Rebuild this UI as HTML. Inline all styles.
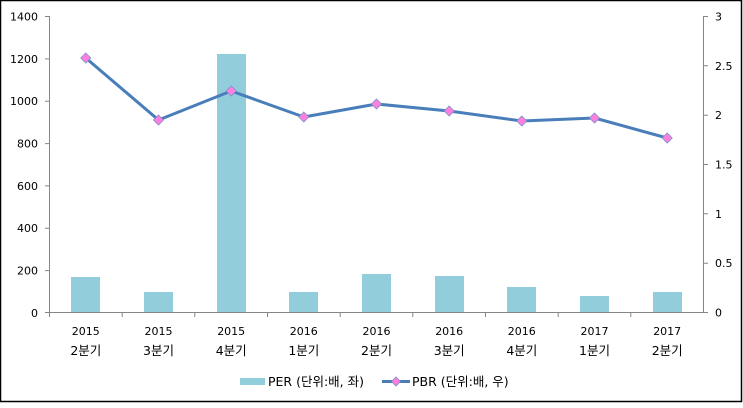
<!DOCTYPE html>
<html><head><meta charset="utf-8"><style>
html,body{margin:0;padding:0;background:#fff;}
svg text{font-family:"DejaVu Sans","Noto Sans CJK KR",sans-serif;font-size:11px;fill:#000;}
svg text.k{font-size:12.5px;}
</style></head><body>
<svg width="743" height="403" xmlns="http://www.w3.org/2000/svg">
<rect x="0.5" y="0.5" width="741" height="401" fill="#fff" stroke="#000" stroke-width="1.5"/>
<g fill="#92CDDC">
<rect x="71" y="277" width="29" height="35.5"/>
<rect x="144" y="292" width="29" height="20.5"/>
<rect x="217" y="54" width="29" height="258.5"/>
<rect x="289" y="292" width="29" height="20.5"/>
<rect x="362" y="274" width="29" height="38.5"/>
<rect x="435" y="276" width="29" height="36.5"/>
<rect x="507" y="287" width="29" height="25.5"/>
<rect x="580" y="296" width="29" height="16.5"/>
<rect x="653" y="292" width="29" height="20.5"/>
</g>
<g stroke="#868686" stroke-width="1" fill="none">
<path d="M49.5 16V312.5H703.5V16"/>
<path d="M45 16.5H49.5M45 58.9H49.5M45 101.2H49.5M45 143.6H49.5M45 185.9H49.5M45 228.3H49.5M45 270.6H49.5M45 312.5H49.5"/>
<path d="M703.5 16.5H708M703.5 65.8H708M703.5 115.2H708M703.5 164.5H708M703.5 213.8H708M703.5 263.2H708M703.5 312.5H708"/>
<path d="M49.5 312.5V317M122.2 312.5V317M194.8 312.5V317M267.5 312.5V317M340.2 312.5V317M412.8 312.5V317M485.5 312.5V317M558.2 312.5V317M630.8 312.5V317"/>
</g>
<polyline points="85.8,58 158.5,120 231.2,91 303.8,117 376.5,104 449.2,111 521.8,121 594.5,118 667.2,138" fill="none" stroke="#4A7EBB" stroke-width="3" stroke-linejoin="round"/>
<g fill="#FF7FDF" stroke="#7A8FCC" stroke-width="0.8">
<path d="M85.8 53l5 5-5 5-5-5z"/><path d="M158.5 115l5 5-5 5-5-5z"/><path d="M231.2 86l5 5-5 5-5-5z"/>
<path d="M303.8 112l5 5-5 5-5-5z"/><path d="M376.5 99l5 5-5 5-5-5z"/><path d="M449.2 106l5 5-5 5-5-5z"/>
<path d="M521.8 116l5 5-5 5-5-5z"/><path d="M594.5 113l5 5-5 5-5-5z"/><path d="M667.2 133l5 5-5 5-5-5z"/>
</g>
<g text-anchor="end">
<text x="38" y="20.5">1400</text><text x="38" y="63">1200</text><text x="38" y="105">1000</text>
<text x="38" y="147.5">800</text><text x="38" y="190">600</text><text x="38" y="232">400</text>
<text x="38" y="274.5">200</text><text x="38" y="317">0</text>
</g>
<g>
<text x="715" y="20.5">3</text><text x="715" y="70">2.5</text><text x="715" y="119">2</text>
<text x="715" y="168.5">1.5</text><text x="715" y="218">1</text><text x="715" y="267">0.5</text><text x="715" y="316.5">0</text>
</g>
<g text-anchor="middle">
<text x="85.8" y="335">2015</text><text class="k" x="85.8" y="355">2분기</text>
<text x="158.5" y="335">2015</text><text class="k" x="158.5" y="355">3분기</text>
<text x="231.2" y="335">2015</text><text class="k" x="231.2" y="355">4분기</text>
<text x="303.8" y="335">2016</text><text class="k" x="303.8" y="355">1분기</text>
<text x="376.5" y="335">2016</text><text class="k" x="376.5" y="355">2분기</text>
<text x="449.2" y="335">2016</text><text class="k" x="449.2" y="355">3분기</text>
<text x="521.8" y="335">2016</text><text class="k" x="521.8" y="355">4분기</text>
<text x="594.5" y="335">2017</text><text class="k" x="594.5" y="355">1분기</text>
<text x="667.2" y="335">2017</text><text class="k" x="667.2" y="355">2분기</text>
</g>
<rect x="240" y="378" width="25" height="7" fill="#92CDDC"/>
<text class="k" x="268" y="386">PER (단위:배, 좌)</text>
<line x1="382" y1="381.5" x2="410" y2="381.5" stroke="#4A7EBB" stroke-width="3"/>
<path d="M396 377l4.5 4.5-4.5 4.5-4.5-4.5z" fill="#FF7FDF" stroke="#7A8FCC" stroke-width="0.8"/>
<text class="k" x="412" y="386">PBR (단위:배, 우)</text>
</svg>
</body></html>
